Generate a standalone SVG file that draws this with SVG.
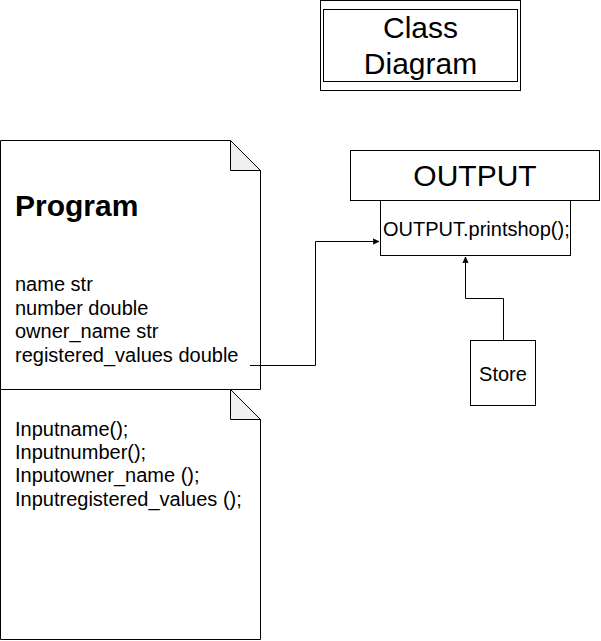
<svg xmlns="http://www.w3.org/2000/svg" width="601" height="641" viewBox="0 0 601 641">
<defs>
<style>
.s{fill:#fff;stroke:#000;stroke-width:1}
.fold{fill:#f0f0f0;stroke:#000;stroke-width:1}
.t{font-family:"Liberation Sans",Arial,sans-serif;fill:#000;font-size:20px}
.big{font-size:30px}
.c{fill:none;stroke:#000;stroke-width:1}
</style>
<marker id="ah" viewBox="0 0 10 10" refX="9" refY="5" markerWidth="7" markerHeight="7" orient="auto" markerUnits="userSpaceOnUse">
<path d="M0,1 L9,5 L0,9 L2,5 Z" fill="#000" stroke="#000" stroke-width="1"/>
</marker>
</defs>
<rect width="601" height="641" fill="#fff"/>
<g id="title">
<rect class="s" x="320.5" y="0.5" width="200" height="90"/>
<rect class="s" x="323.5" y="9.5" width="194" height="72"/>
<text class="t big" x="420.5" y="38" text-anchor="middle">Class</text>
<text class="t big" x="420.5" y="74" text-anchor="middle">Diagram</text>
</g>
<g id="program">
<path class="s" d="M0.5,140.5 H230.5 L260.5,170.5 V389.5 H0.5 Z"/>
<path class="fold" d="M230.5,140.5 V170.5 H260.5 Z"/>
<text class="t big" x="15" y="216" font-weight="bold">Program</text>
<text class="t" x="15" y="291">name str</text>
<text class="t" x="15" y="315">number double</text>
<text class="t" x="15" y="338">owner_name str</text>
<text class="t" x="15" y="362">registered_values double</text>
</g>
<g id="methods">
<path class="s" d="M0.5,389.5 H230.5 L260.5,419.5 V639.5 H0.5 Z"/>
<path class="fold" d="M230.5,389.5 V419.5 H260.5 Z"/>
<text class="t" x="15" y="436">Inputname();</text>
<text class="t" x="15" y="459">Inputnumber();</text>
<text class="t" x="15" y="482">Inputowner_name ();</text>
<text class="t" x="15" y="506">Inputregistered_values ();</text>
</g>
<g id="output">
<rect class="s" x="350.5" y="150.5" width="249" height="50"/>
<text class="t big" x="475" y="186" text-anchor="middle">OUTPUT</text>
</g>
<g id="printshop">
<rect class="s" x="380.5" y="200.5" width="190" height="55"/>
<text class="t" x="383" y="236">OUTPUT.printshop();</text>
</g>
<g id="store">
<rect class="s" x="470.5" y="340.5" width="65" height="65"/>
<text class="t" x="503" y="381" text-anchor="middle">Store</text>
</g>
<g id="connectors">
<path class="c" d="M250,365.5 H315.5 V241.5 H379" marker-end="url(#ah)"/>
<path class="c" d="M503.5,340 V298.5 H465.5 V257" marker-end="url(#ah)"/>
</g>
</svg>
